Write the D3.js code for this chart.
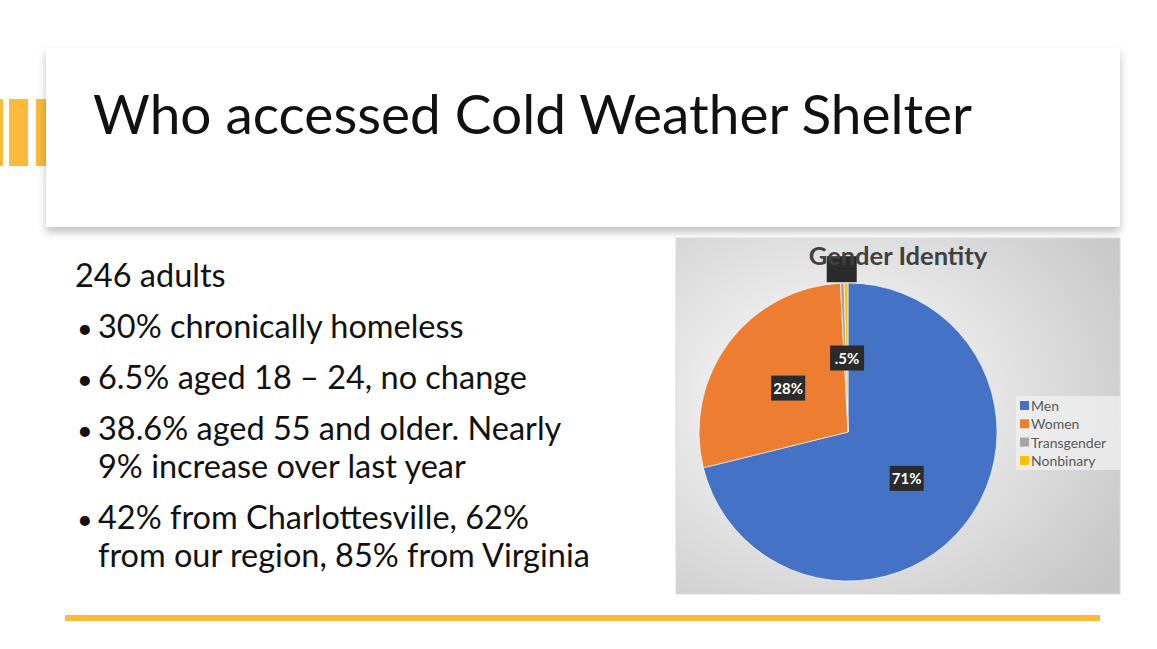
<!DOCTYPE html>
<html>
<head>
<meta charset="utf-8">
<script src="https://cdn.jsdelivr.net/npm/d3@7"></script>
<style>
  body { margin: 0; background: #fff; }
  svg { display: block; font-family: Lato, "Open Sans", sans-serif; }
</style>
</head>
<body>
<div id="slide"></div>
<script>
// slide data
const title = "Who accessed Cold Weather Shelter";
const intro = "246 adults";
const bullets = [
  ["30% chronically homeless"],
  ["6.5% aged 18 \u2013 24, no change"],
  ["38.6% aged 55 and older. Nearly", "9% increase over last year"],
  ["42% from Charlottesville, 62%", "from our region, 85% from Virginia"]
];

// pie data (counts out of 246 adults)
const categories = ["Men", "Women", "Transgender", "Nonbinary"];
const counts = [175, 69, 1, 1];
const labels = ["71%", "28%", "", ".5%"];
const colours = ["#4472C4", "#ED7D31", "#A5A5A5", "#FFC000"];

const w = 1157, h = 649;

const svg = d3.select("#slide")
  .append("svg")
  .attr("width", w)
  .attr("height", h)
  .attr("viewBox", [0, 0, w, h]);

const defs = svg.append("defs");

// shadow for the title box
const shadow = defs.append("filter").attr("id", "shadow")
  .attr("x", "-5%").attr("y", "-10%").attr("width", "110%").attr("height", "130%");
shadow.append("feDropShadow")
  .attr("dx", 0).attr("dy", 5).attr("stdDeviation", 4)
  .attr("flood-color", "#000").attr("flood-opacity", 0.25);

// left decoration bars
svg.selectAll("rect.deco")
  .data([[0, 3], [9, 19], [36, 12]])
  .join("rect")
  .attr("class", "deco")
  .attr("x", (d) => d[0])
  .attr("width", (d) => d[1])
  .attr("y", 99)
  .attr("height", 67)
  .attr("fill", "#FBBA3C");

// title box
svg.append("rect")
  .attr("x", 46).attr("y", 48)
  .attr("width", 1074).attr("height", 179)
  .attr("fill", "#fff")
  .attr("filter", "url(#shadow)");

svg.append("text")
  .attr("x", 93).attr("y", 134)
  .attr("font-size", 54)
  .attr("fill", "#111")
  .attr("textLength", 879)
  .attr("lengthAdjust", "spacingAndGlyphs")
  .text(title);

// bullet text
const body = svg.append("g").attr("fill", "#111");

// size the body font so the longest line ends where it does on the slide
const probe = body.append("text").attr("font-size", 28).text(bullets[3][1]);
const fs = 28 * 492 / probe.node().getComputedTextLength();
probe.remove();
body.attr("font-size", fs);

body.append("text").attr("x", 75).attr("y", 287).text(intro);

let y = 338;
bullets.forEach((lines) => {
  body.append("text").attr("x", 77).attr("y", y).attr("font-size", 27).text("\u2022");
  lines.forEach((line, i) => {
    body.append("text").attr("x", 98).attr("y", y + i * 38).text(line);
  });
  y += lines.length * 38 + 13;
});

// bottom rule
svg.append("line")
  .attr("x1", 65).attr("x2", 1100)
  .attr("y1", 618).attr("y2", 618)
  .attr("stroke", "#FBBA3C")
  .attr("stroke-width", 6);

// chart area
const chart = { x: 676, y: 238, w: 444, h: 356 };
const grad = defs.append("radialGradient").attr("id", "chartbg")
  .attr("cx", "35%").attr("cy", "45%").attr("r", "80%");
grad.append("stop").attr("offset", "0%").attr("stop-color", "#ffffff");
grad.append("stop").attr("offset", "100%").attr("stop-color", "#c6c6c6");

svg.append("rect")
  .attr("x", chart.x).attr("y", chart.y)
  .attr("width", chart.w).attr("height", chart.h)
  .attr("fill", "url(#chartbg)")
  .attr("stroke", "#d9d9d9");

const cx = 848, cy = 432, R = 149;
const g = svg.append("g").attr("transform", `translate(${cx},${cy})`);

const pie = d3.pie().sort(null).value((d) => d);
const arcs = pie(counts);
const arc = d3.arc().innerRadius(0).outerRadius(R);

g.selectAll("path")
  .data(arcs)
  .join("path")
  .attr("d", arc)
  .attr("fill", (d, i) => colours[i])
  .attr("stroke", "#fff")
  .attr("stroke-width", 0.6);

// chart title
svg.append("text")
  .attr("x", 898).attr("y", 265)
  .attr("text-anchor", "middle")
  .attr("font-size", 25.5)
  .attr("font-weight", "bold")
  .attr("fill", "#404040")
  .text("Gender Identity");

// data labels: dark boxes with white text
const lab = g.selectAll("g.lab")
  .data(arcs)
  .join("g")
  .attr("class", "lab")
  .attr("transform", (d, i) => {
    const c = arc.centroid(d);
    // the empty label was pushed outside the pie
    const k = labels[i] === "" ? 2.2 : 1;
    return `translate(${c[0] * k},${c[1] * k})`;
  });

lab.append("rect")
  .attr("x", (d, i) => labels[i] === "" ? -15 : -17)
  .attr("y", -12)
  .attr("width", (d, i) => labels[i] === "" ? 30 : 34)
  .attr("height", (d, i) => labels[i] === "" ? 26 : 25)
  .attr("fill", "#2b2b2b");

lab.append("text")
  .attr("text-anchor", "middle")
  .attr("dy", "0.4em")
  .attr("font-size", 15)
  .attr("font-weight", "bold")
  .attr("fill", "#fff")
  .text((d, i) => labels[i]);

// legend
const leg = svg.append("g").attr("transform", "translate(1016,396)");
leg.append("rect")
  .attr("width", 104).attr("height", 74)
  .attr("fill", "#f2f2f2").attr("opacity", 0.7);

const item = leg.selectAll("g.item")
  .data(categories)
  .join("g")
  .attr("class", "item")
  .attr("transform", (d, i) => `translate(4,${10 + i * 18.3})`);

item.append("rect")
  .attr("x", 0).attr("y", -5)
  .attr("width", 9).attr("height", 9)
  .attr("fill", (d, i) => colours[i]);

item.append("text")
  .attr("x", 11).attr("dy", "0.35em")
  .attr("font-size", 14)
  .attr("fill", "#595959")
  .text((d) => d);
</script>
</body>
</html>
